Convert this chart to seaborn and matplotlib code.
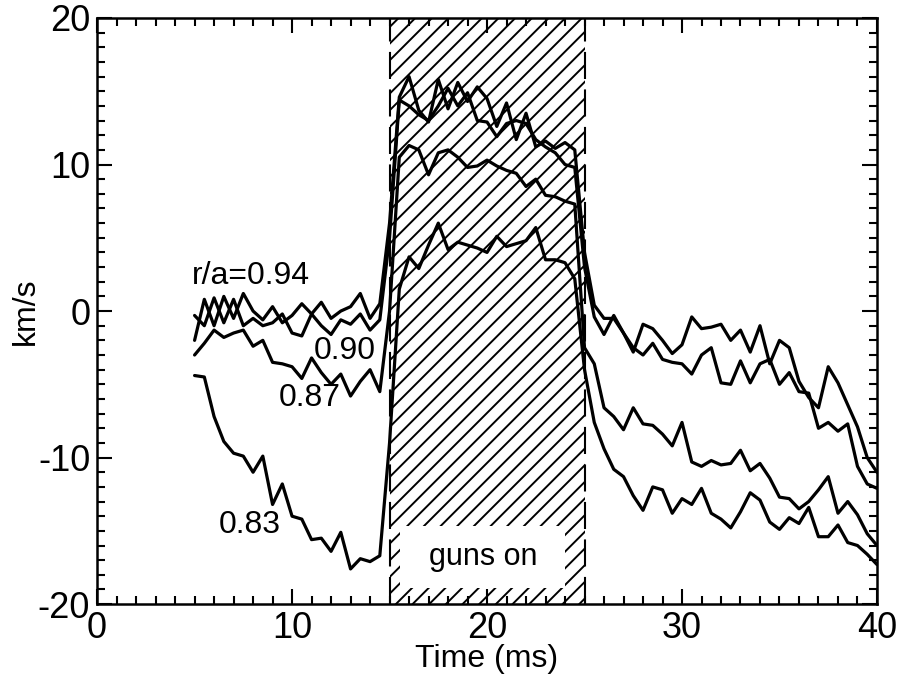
import numpy as np
import pandas as pd
import matplotlib
matplotlib.use("Agg")
import matplotlib.pyplot as plt
from matplotlib.ticker import MultipleLocator
from matplotlib.patches import Rectangle
import seaborn as sns

# ---- data ----
time_ms = [5.0 + 0.5 * i for i in range(71)]

v_094 = [-2.0, 0.8, -1.0, 1.0, -0.5, 1.2, 0.0, -0.6, 0.3, -0.8,
         -0.3, 0.5, -0.2, 0.6, -0.5, 0.0, 0.3, 1.2, -0.5, 0.5,
         6.0, 14.6, 16.0, 13.7, 12.9, 15.8, 13.8, 15.6, 14.3, 15.3,
         14.5, 12.6, 14.2, 11.7, 13.5, 11.2, 11.6, 11.1, 11.5, 11.0,
         4.0, 0.4, -0.5, -0.5, -1.5, -2.5, -3.0, -2.2, -3.3, -3.5,
         -3.6, -4.3, -3.0, -2.5, -4.9, -5.0, -3.4, -4.9, -3.6, -3.3,
         -5.0, -4.2, -5.5, -5.6, -8.0, -7.6, -8.2, -7.7, -10.6, -11.8,
         -12.1]

v_090 = [-0.3, -1.0, 0.9, -0.8, 0.8, -1.0, -0.5, -1.0, -0.8, -0.2,
         -1.5, -1.7, -0.2, -1.0, -1.6, -0.6, -0.9, -0.2, -1.3, -0.6,
         5.0, 14.4, 14.0, 13.4, 13.0, 14.0, 15.2, 14.0, 14.9, 13.0,
         12.9, 11.9, 12.8, 13.0, 12.8, 11.7, 11.2, 10.8, 10.0, 9.8,
         3.0, -0.4, -1.6, -0.3, -1.5, -2.8, -0.9, -1.2, -2.0, -2.9,
         -2.3, -0.4, -1.2, -1.1, -0.9, -2.0, -1.3, -2.8, -1.0, -3.6,
         -2.0, -2.5, -4.8, -5.9, -6.6, -3.8, -4.9, -6.4, -7.9, -10.0,
         -11.0]

v_087 = [-3.0, -2.2, -1.3, -1.8, -1.5, -1.3, -2.4, -2.0, -3.5, -3.6,
         -3.8, -4.6, -3.2, -4.2, -5.0, -4.3, -5.8, -4.8, -4.0, -5.5,
         0.0, 10.5, 11.3, 11.0, 9.3, 10.8, 11.0, 10.5, 9.8, 9.9,
         10.3, 9.9, 9.6, 9.4, 8.5, 9.0, 7.9, 7.8, 7.5, 7.3,
         -2.5, -3.6, -6.6, -7.2, -8.1, -6.6, -7.7, -7.8, -8.4, -9.2,
         -7.6, -10.3, -10.6, -10.2, -10.5, -10.4, -9.5, -10.9, -10.4, -11.4,
         -12.7, -12.8, -13.5, -13.0, -12.2, -11.3, -13.8, -13.0, -13.9, -15.2,
         -16.0]

v_083 = [-4.4, -4.5, -7.2, -8.9, -9.7, -9.9, -11.0, -9.9, -13.2, -11.8,
         -14.0, -14.2, -15.6, -15.5, -16.4, -15.1, -17.6, -16.9, -17.1, -16.7,
         -9.0, 1.5, 3.7, 2.9, 4.5, 6.0, 4.2, 4.7, 4.5, 4.3,
         4.0, 5.1, 4.4, 4.6, 4.8, 5.7, 3.5, 3.5, 3.3, 2.2,
         -4.0, -7.6, -9.4, -10.8, -11.3, -12.6, -13.6, -12.0, -12.2, -13.8,
         -12.8, -13.2, -12.1, -13.8, -14.2, -14.8, -13.7, -12.4, -12.9, -14.4,
         -14.9, -14.1, -14.5, -13.4, -15.4, -15.4, -14.6, -15.8, -16.0, -16.6,
         -17.3]

radii = ["0.94", "0.90", "0.87", "0.83"]
series = [v_094, v_090, v_087, v_083]
label_text = ["r/a=0.94", "0.90", "0.87", "0.83"]
label_pos = [(4.85, 2.4), (12.7, -2.7), (10.9, -5.9), (7.85, -14.6)]

guns_on = (15, 25)

# ---- build long table ----
df = pd.concat(
    [pd.DataFrame({"t": time_ms, "v": s, "r": r}) for r, s in zip(radii, series)],
    ignore_index=True,
)

sns.set_style("ticks")
plt.rcParams["font.family"] = ["Liberation Sans", "DejaVu Sans"]
plt.rcParams["hatch.linewidth"] = 1.4
plt.rcParams["hatch.color"] = "black"
plt.rcParams["axes.unicode_minus"] = False
plt.rcParams["text.color"] = "black"
plt.rcParams["axes.labelcolor"] = "black"

fig = plt.figure(figsize=(8.99, 6.92), dpi=100)
ax = fig.add_axes([0.108, 0.127, 0.8675, 0.847])

# hatched "guns on" region
ax.axvspan(guns_on[0], guns_on[1], facecolor="white", edgecolor="black",
           hatch="//", linewidth=0, zorder=0)
for xv in guns_on:
    ax.axvline(xv, color="black", lw=1.5, ls=(0, (13, 5)), zorder=1)

sns.lineplot(data=df, x="t", y="v", units="r", estimator=None,
             color="black", lw=2.3, ax=ax, zorder=2, legend=False)

for txt, (x, y) in zip(label_text, label_pos):
    ax.text(x, y, txt, fontsize=23, ha="left" if txt.startswith("r/a") else "center",
            va="center", zorder=4)

# white box behind the "guns on" caption
ax.add_patch(Rectangle((15.55, -18.9), 8.45, 4.2, facecolor="white",
                       edgecolor="none", zorder=4.5))
ax.text(19.8, -16.8, "guns on", fontsize=22, ha="center", va="center", zorder=5)

ax.set_xlim(0, 40)
ax.set_ylim(-20, 20)
ax.xaxis.set_major_locator(MultipleLocator(10))
ax.xaxis.set_minor_locator(MultipleLocator(1))
ax.yaxis.set_major_locator(MultipleLocator(10))
ax.yaxis.set_minor_locator(MultipleLocator(1))
ax.tick_params(which="both", direction="in", top=True, right=True, width=1.5,
               colors="black")
ax.tick_params(which="major", length=11, labelsize=26, pad=5)
ax.tick_params(which="minor", length=5.5)
for sp in ax.spines.values():
    sp.set_linewidth(1.8)
    sp.set_color("black")

ax.set_xlabel("Time (ms)", fontsize=23)
ax.set_ylabel("km/s", fontsize=23)
ax.xaxis.set_label_coords(0.5, -0.068)
ax.yaxis.set_label_coords(-0.072, 0.5)

fig.savefig("out.png", dpi=100)
